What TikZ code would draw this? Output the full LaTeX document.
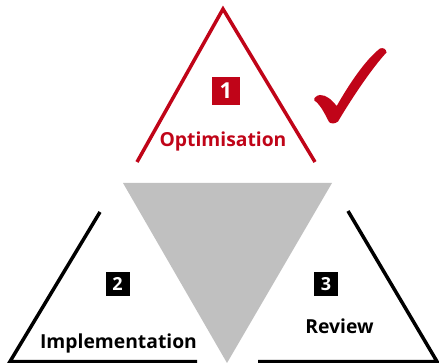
\documentclass[tikz,border=0pt]{standalone}
\usepackage{fontspec}
\setmainfont{Open Sans}
\definecolor{mred}{RGB}{192,4,24}
\definecolor{mgray}{RGB}{192,192,192}
\begin{document}
\begin{tikzpicture}[x=1pt,y=-1pt,
  redline/.style={draw=mred,line width=3.5pt,line join=miter,line cap=butt},
  blackline/.style={draw=black,line width=3.5pt,line join=miter,line cap=butt},
  lbl/.style={anchor=base,inner sep=0pt,font=\bfseries\fontsize{19.3}{21}\selectfont},
  numbox/.style={inner sep=0pt,text=white}]
\useasboundingbox (0,0) rectangle (439,363);
% red triangle
\coordinate (r1) at (137,162);
\coordinate (r2) at (223,9);
\coordinate (r3) at (315,162);
\draw[redline] (r1) -- (r2) -- (r3);
% gray triangle
\coordinate (g1) at (123,183);
\coordinate (g2) at (332,183);
\coordinate (g3) at (227,363);
\fill[mgray] (g1) -- (g2) -- (g3) -- cycle;
% left black triangle
\coordinate (l1) at (100,212);
\coordinate (l2) at (10,361.5);
\coordinate (l3) at (197,361.5);
\draw[blackline] (l1) -- (l2) -- (l3);
% right black triangle
\coordinate (q1) at (348,211);
\coordinate (q2) at (437,361.5);
\coordinate (q3) at (258,361.5);
\draw[blackline] (q1) -- (q2) -- (q3);
% check mark
\fill[mred] (314.3,98.3) .. controls (316,96) and (318,95) .. (320,95)
  .. controls (326,95) and (331,99) .. (336.7,106)
  .. controls (348,86) and (365,60) .. (380,48.5)
  .. controls (383,47.5) and (386,48.5) .. (386.5,52.5)
  .. controls (372,68) and (352,98) .. (338,121.5)
  .. controls (335,124) and (331,124) .. (329,122)
  .. controls (325,114) and (320,104) .. (314.3,100.5) -- cycle;
% number boxes
\node[numbox,fill=mred,minimum width=28pt,minimum height=28pt,font=\bfseries\fontsize{22}{23}\selectfont] (n1) at (226,91) {1};
\node[numbox,fill=black,minimum width=24pt,minimum height=24pt,font=\bfseries\fontsize{18}{19}\selectfont] (n2) at (117.5,284) {2};
\node[numbox,fill=black,minimum width=24pt,minimum height=24pt,font=\bfseries\fontsize{18}{19}\selectfont] (n3) at (326,284.5) {3};
% labels
\node[lbl,text=mred] (t1) at (223,147) {Optimisation};
\node[lbl] (t2) at (118.5,348) {Implementation};
\node[lbl] (t3) at (339.5,333) {Review};
\end{tikzpicture}
\end{document}
